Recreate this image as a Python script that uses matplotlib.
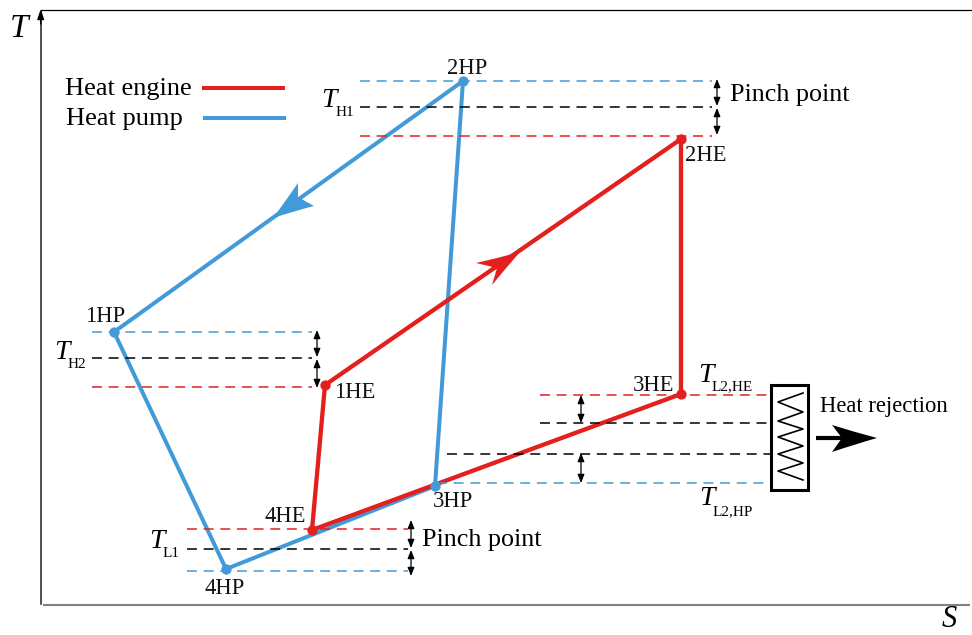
import matplotlib
matplotlib.use('Agg')
import matplotlib.pyplot as plt
from matplotlib.path import Path
from matplotlib.patches import PathPatch, Rectangle

plt.rcParams['font.family'] = ['Liberation Serif', 'DejaVu Serif']

RED = '#e3201e'
BLUE = '#429bd8'

# cycle corners (S, T in image pixels)
he_s = [325, 681, 681, 312]
he_t = [385, 139, 394, 530]
hp_s = [114, 463, 435, 226]
hp_t = [332, 81, 486, 569]
he_names = ['1HE', '2HE', '3HE', '4HE']
hp_names = ['1HP', '2HP', '3HP', '4HP']

# horizontal dashed levels: y, x start, x end, colour
levels = [
    (81, 360, 712, BLUE), (107, 360, 712, 'black'), (136, 360, 712, RED),
    (332, 92, 312, BLUE), (358, 92, 312, 'black'), (387, 92, 312, RED),
    (529, 187, 408, RED), (549, 187, 408, 'black'), (571, 187, 408, BLUE),
    (394.5, 540, 770, RED), (422.5, 540, 770, 'black'),
    (453.5, 447, 770, 'black'), (482.5, 437, 770, BLUE),
]

# small double arrows: x, y top, y bottom
gaps = [
    (717, 79, 106), (717, 108, 135),
    (317, 330, 357), (317, 359, 388),
    (411, 520, 548), (411, 550, 576),
    (581, 395, 423), (581, 453, 483),
]

zig_s = [803, 778, 803, 778, 803, 778, 803, 778, 803, 778, 803]
zig_t = [393, 402, 412, 421, 429, 437, 446, 454, 463, 471, 480]


def stealth(ax, tip, barb1, barb2, notch, color):
    # curved flanks from the tip, straight back edges into the notch
    m1 = ((tip[0] + barb1[0]) / 2 + (notch[0] - (tip[0] + barb1[0]) / 2) * 0.05,
          (tip[1] + barb1[1]) / 2 + (notch[1] - (tip[1] + barb1[1]) / 2) * 0.05)
    m2 = ((tip[0] + barb2[0]) / 2 + (notch[0] - (tip[0] + barb2[0]) / 2) * 0.05,
          (tip[1] + barb2[1]) / 2 + (notch[1] - (tip[1] + barb2[1]) / 2) * 0.05)
    verts = [tip, m1, barb1, notch, barb2, m2, tip, tip]
    codes = [Path.MOVETO, Path.CURVE3, Path.CURVE3, Path.LINETO, Path.LINETO,
             Path.CURVE3, Path.CURVE3, Path.CLOSEPOLY]
    ax.add_patch(PathPatch(Path(verts, codes), fc=color, ec='none', zorder=5))


fig = plt.figure(figsize=(9.72, 6.35), dpi=100)
ax = fig.add_axes([0, 0, 1, 1])
ax.set_xlim(0, 972)
ax.set_ylim(635, 0)
ax.axis('off')

# axes frame
ax.plot([40.5, 972], [9.5, 9.5], color='black', lw=0.9)
ax.plot([40.7, 40.7], [12, 604], color='#222222', lw=1.1)
ax.plot([43, 970], [605, 605], color='#808080', lw=1.5, solid_capstyle='butt')
ax.annotate('', xy=(40.7, 9), xytext=(40.7, 24),
            arrowprops=dict(arrowstyle='-|>,head_width=0.2,head_length=0.6', color='black', lw=1, shrinkA=0, shrinkB=0))
ax.annotate('', xy=(974, 605), xytext=(960, 605),
            arrowprops=dict(arrowstyle='-|>,head_width=0.2,head_length=0.5', color='black', lw=0.8, shrinkA=0, shrinkB=0))
ax.text(10, 37, 'T', fontsize=24, style='italic', va='baseline')
ax.text(942, 627, 'S', fontsize=22, style='italic', va='baseline')

# dashed levels, they sit on top of the cycle lines
for y, x0, x1, c in levels:
    ax.plot([x0, x1], [y, y], color=c, lw=1.1, dashes=(6.5, 4.4), zorder=3.7)

# pinch gaps
for x, y0, y1 in gaps:
    ax.annotate('', xy=(x, y0), xytext=(x, y1),
                arrowprops=dict(arrowstyle='<|-|>,head_width=0.2,head_length=0.5',
                                color='black', lw=0.9, shrinkA=0, shrinkB=0))

# cycles, heat pump below heat engine
ax.plot(hp_s + hp_s[:1], hp_t + hp_t[:1], color=BLUE, lw=2.9, solid_joinstyle='round', zorder=3)
ax.plot(he_s + he_s[:1], he_t + he_t[:1], color=RED, lw=3.1, solid_joinstyle='round', zorder=3.5)
ax.scatter(hp_s, hp_t, s=55, color=BLUE, linewidths=0, zorder=4)
ax.scatter(he_s, he_t, s=55, color=RED, linewidths=0, zorder=4)

stealth(ax, (273, 218), (298, 183), (314, 206), (298, 197), BLUE)
stealth(ax, (520, 252), (476, 263), (492, 285), (497, 268), RED)

# point labels
label_pos = {'1HE': (334, 398), '2HE': (685, 161), '3HE': (633, 391), '4HE': (264, 522),
             '1HP': (85, 322), '2HP': (447, 74), '3HP': (433, 507), '4HP': (204, 594)}
for name in he_names + hp_names:
    x, y = label_pos[name]
    ax.text(x, y, name, fontsize=16.3, va='baseline', ha='left', color='#111111', zorder=6)

# temperature labels: subscript, x, y, subscript x, subscript y
for sym, x, y, sx, sy in [('H1', 321, 107, 336, 116), ('H2', 54, 359, 68, 368),
                          ('L1', 149, 548, 163, 557), ('L2,HE', 698, 382, 712, 390),
                          ('L2,HP', 699, 505, 713, 515)]:
    ax.text(x, y, 'T', fontsize=20, style='italic', va='baseline')
    ax.text(sx, sy, sym, fontsize=11, va='baseline')

ax.text(730, 101, 'Pinch point', fontsize=18.8, va='baseline')
ax.text(422, 546, 'Pinch point', fontsize=18.8, va='baseline')
ax.text(820, 412, 'Heat rejection', fontsize=16.3, va='baseline')

# legend, drawn by hand like the original
ax.text(65, 95, 'Heat engine', fontsize=19, va='baseline')
ax.text(66, 125, 'Heat pump', fontsize=19, va='baseline')
ax.plot([202, 285], [88, 88], color=RED, lw=2.9, solid_capstyle='butt')
ax.plot([203, 286], [118, 118], color=BLUE, lw=2.9, solid_capstyle='butt')

# condenser box
ax.add_patch(Rectangle((770.5, 385), 37.5, 105, fc='white', ec='black', lw=2.2, zorder=6))
ax.plot(zig_s, zig_t, color='black', lw=1.2, zorder=7)
ax.plot([816, 848], [438, 438], color='black', lw=3, solid_capstyle='butt', zorder=6)
stealth(ax, (877, 438), (832, 425), (832, 452), (842, 438), 'black')

fig.savefig('out.png', dpi=100)
